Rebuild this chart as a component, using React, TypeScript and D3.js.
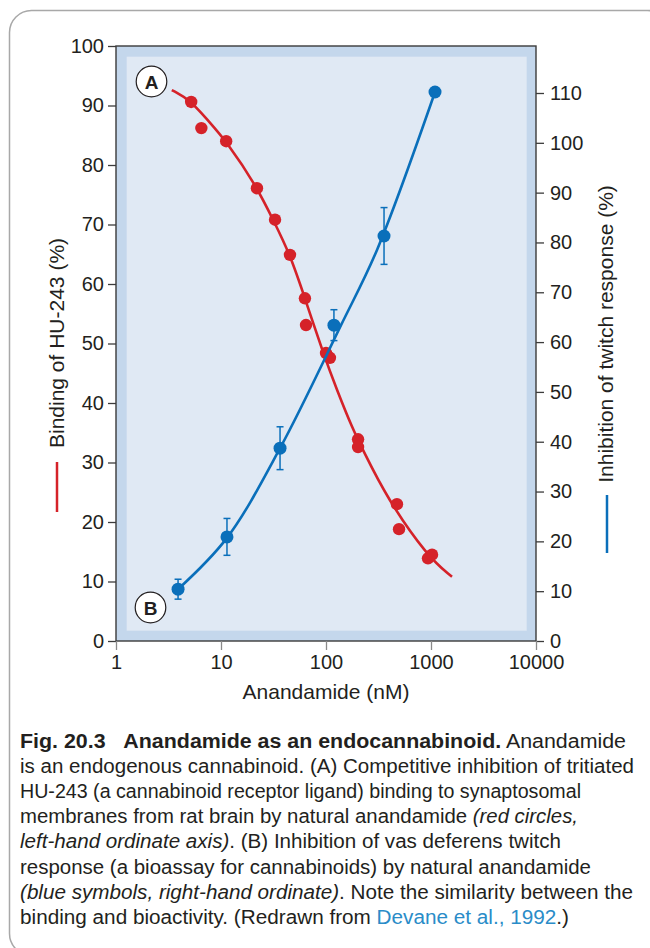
import React, { useEffect, useRef } from 'react';
import * as d3 from 'd3';

const W = 650;
const H = 948;
// plot frame: x 116..536, y 46..641
const frame = { left: 116, top: 46, right: 536, bottom: 641 };

const concTicks = [1, 10, 100, 1000, 10000];
const bindingTicks = [0, 10, 20, 30, 40, 50, 60, 70, 80, 90, 100];
const twitchTicks = [0, 10, 20, 30, 40, 50, 60, 70, 80, 90, 100, 110];

// (A) binding of HU-243 (%), red circles, left axis
const bindConc = [5.2, 6.5, 11.2, 22, 32.7, 45.4, 63, 64.5, 100, 109, 202, 202, 474, 496, 936, 1023];
const bindPct = [90.6, 86.2, 84.0, 76.1, 70.8, 64.9, 57.6, 53.1, 48.4, 47.6, 33.9, 32.6, 23.0, 18.8, 13.9, 14.5];
// fitted curve
const bindFitConc = [3.4, 5.1, 7.4, 11.4, 22, 31.3, 45.4, 63, 94, 127, 181, 225, 381, 936, 1585];
const bindFitPct = [92.6, 90.9, 87.6, 83.9, 76.3, 70.8, 65.0, 57.6, 48.4, 42.2, 35.5, 32.1, 24.0, 14.1, 10.8];

// (B) inhibition of twitch response (%), blue, right axis
const twitchConc = [3.9, 11.4, 36.5, 119, 357, 1092];
const twitchPct = [10.4, 20.9, 38.7, 63.4, 81.3, 110.2];
const twitchErr = [2.0, 3.7, 4.3, 3.1, 5.7, 0];
const twitchFitConc = [3.9, 11.4, 36.5, 139, 306, 1092];
const twitchFitPct = [10.4, 20.7, 38.7, 63.4, 78.5, 110.2];

const xTitle = 'Anandamide (nM)';
const leftTitle = 'Binding of HU-243 (%)';
const rightTitle = 'Inhibition of twitch response (%)';

// caption: each line is a list of [text, style] segments, plus the measured line width
type Seg = [string, string];
const captionLines: Seg[][] = [
  [['Fig. 20.3', 'b'], ['\u00a0\u00a0\u00a0Anandamide as an endocannabinoid.', 'b'], [' Anandamide', 'r']],
  [['is an endogenous cannabinoid. (A) Competitive inhibition of tritiated', 'r']],
  [['HU-243 (a cannabinoid receptor ligand) binding to synaptosomal', 'r']],
  [['membranes from rat brain by natural anandamide ', 'r'], ['(red circles,', 'i']],
  [['left-hand ordinate axis)', 'i'], ['. (B) Inhibition of vas deferens twitch', 'r']],
  [['response (a bioassay for cannabinoids) by natural anandamide', 'r']],
  [['(blue symbols, right-hand ordinate)', 'i'], ['. Note the similarity between the', 'r']],
  [['binding and bioactivity. (Redrawn from ', 'r'], ['Devane et al., 1992', 'link'], ['.)', 'r']],
];
const captionWidths = [606, 614, 561, 558, 541, 571, 613, 549];

const RED = '#d52229';
const BLUE = '#0a6fba';
const FONT = '"Liberation Sans", Arial, Helvetica, sans-serif';

export default function App() {
  const ref = useRef<SVGSVGElement>(null);

  useEffect(() => {
    const svg = d3.select(ref.current);
    svg.selectAll('*').remove();

    const x = d3.scaleLog().domain([1, 10000]).range([frame.left, frame.right]);
    const yL = d3.scaleLinear().domain([0, 100]).range([frame.bottom, frame.top]);
    const yR = d3.scaleLinear().domain([0, 110]).range([frame.bottom, 93]);

    // card
    svg.append('rect')
      .attr('x', 9.5).attr('y', 10.5).attr('width', 660).attr('height', 945)
      .attr('rx', 22).attr('fill', 'white').attr('stroke', '#a8a8a8').attr('stroke-width', 1.5);

    // plot background: darker band and lighter inner area
    svg.append('rect')
      .attr('x', frame.left).attr('y', frame.top)
      .attr('width', frame.right - frame.left).attr('height', frame.bottom - frame.top)
      .attr('fill', '#c4d7ec');
    svg.append('rect')
      .attr('x', 126.7).attr('y', 56.7).attr('width', 400).attr('height', 574)
      .attr('fill', '#e0e9f4');
    svg.append('rect')
      .attr('x', frame.left).attr('y', frame.top)
      .attr('width', frame.right - frame.left).attr('height', frame.bottom - frame.top)
      .attr('fill', 'none').attr('stroke', '#3b3b3b').attr('stroke-width', 1.4);

    const styleAxis = (g, tickColor) => {
      g.select('.domain').remove();
      g.selectAll('.tick line').attr('stroke', tickColor).attr('stroke-width', 1.3);
      g.selectAll('.tick text')
        .attr('fill', '#231f20')
        .style('font-family', FONT)
        .style('font-size', '20px');
    };

    svg.append('g')
      .attr('transform', `translate(${frame.left},0)`)
      .call(d3.axisLeft(yL).tickValues(bindingTicks).tickSize(8).tickPadding(4))
      .call(g => styleAxis(g, '#3b3b3b'));

    svg.append('g')
      .attr('transform', `translate(${frame.right},0)`)
      .call(d3.axisRight(yR).tickValues(twitchTicks).tickSize(8).tickPadding(6))
      .call(g => styleAxis(g, '#3b3b3b'));

    svg.append('g')
      .attr('transform', `translate(0,${frame.bottom})`)
      .call(d3.axisBottom(x).tickValues(concTicks).tickFormat(d3.format('d')).tickSize(9).tickPadding(5))
      .call(g => styleAxis(g, '#8a8a8a'));

    // axis titles
    const title = (s: string) => svg.append('text')
      .text(s).attr('fill', '#231f20')
      .style('font-family', FONT).style('font-size', '21px')
      .attr('text-anchor', 'middle');
    title(xTitle).attr('x', 326).attr('y', 699);
    title(leftTitle).attr('transform', 'translate(64,343) rotate(-90)');
    title(rightTitle).attr('transform', 'translate(613,334) rotate(-90)');
    svg.append('line').attr('x1', 57).attr('x2', 57).attr('y1', 462).attr('y2', 512)
      .attr('stroke', RED).attr('stroke-width', 2.5);
    svg.append('line').attr('x1', 607).attr('x2', 607).attr('y1', 495).attr('y2', 553)
      .attr('stroke', BLUE).attr('stroke-width', 2.5);

    // (A) binding curve + points
    const redLine = d3.line<number>()
      .x((d, i) => x(bindFitConc[i]))
      .y(d => yL(d))
      .curve(d3.curveBasis);
    svg.append('path').attr('d', redLine(bindFitPct))
      .attr('fill', 'none').attr('stroke', RED).attr('stroke-width', 2.6);
    svg.append('g').selectAll('circle').data(bindPct).enter().append('circle')
      .attr('cx', (d, i) => x(bindConc[i]))
      .attr('cy', d => yL(d))
      .attr('r', 6.2)
      .attr('fill', RED);

    // (B) twitch curve + error bars + points
    const blueLine = d3.line<number>()
      .x((d, i) => x(twitchFitConc[i]))
      .y(d => yR(d))
      .curve(d3.curveCatmullRom.alpha(0.5));
    svg.append('path').attr('d', blueLine(twitchFitPct))
      .attr('fill', 'none').attr('stroke', BLUE).attr('stroke-width', 2.6);

    const err = svg.append('g').attr('stroke', BLUE).attr('stroke-width', 1.5);
    twitchPct.forEach((v, i) => {
      if (!twitchErr[i]) return;
      const cx = x(twitchConc[i]);
      const y1 = yR(v + twitchErr[i]);
      const y2 = yR(v - twitchErr[i]);
      err.append('line').attr('x1', cx).attr('x2', cx).attr('y1', y1).attr('y2', y2);
      err.append('line').attr('x1', cx - 3.5).attr('x2', cx + 3.5).attr('y1', y1).attr('y2', y1);
      err.append('line').attr('x1', cx - 3.5).attr('x2', cx + 3.5).attr('y1', y2).attr('y2', y2);
    });
    svg.append('g').selectAll('circle').data(twitchPct).enter().append('circle')
      .attr('cx', (d, i) => x(twitchConc[i]))
      .attr('cy', d => yR(d))
      .attr('r', 6.5)
      .attr('fill', BLUE);

    // panel labels
    [['A', 151.5, 81.5], ['B', 150.5, 607.5]].forEach(([s, cx, cy]) => {
      svg.append('circle').attr('cx', cx).attr('cy', cy).attr('r', 15.3)
        .attr('fill', 'white').attr('stroke', '#231f20').attr('stroke-width', 1.2);
      svg.append('text').text(s as string).attr('x', cx).attr('y', (cy as number) + 7)
        .attr('text-anchor', 'middle').attr('fill', '#231f20')
        .style('font-family', FONT).style('font-size', '19px').style('font-weight', 'bold');
    });

    // caption
    captionLines.forEach((segs, li) => {
      const t = svg.append('text')
        .attr('x', 20).attr('y', 748 + li * 25.1)
        .attr('textLength', captionWidths[li])
        .attr('lengthAdjust', 'spacingAndGlyphs')
        .attr('fill', '#231f20')
        .style('font-family', FONT).style('font-size', '19.5px');
      segs.forEach(([s, st]) => {
        const ts = t.append('tspan').text(s);
        if (st === 'b') ts.style('font-weight', 'bold');
        if (st === 'i') ts.style('font-style', 'italic');
        if (st === 'link') ts.attr('fill', '#2a8cc8');
      });
    });
  }, []);

  return (
    <svg ref={ref} width={W} height={H}
      style={{ position: 'absolute', left: 0, top: 0, background: 'white' }} />
  );
}
